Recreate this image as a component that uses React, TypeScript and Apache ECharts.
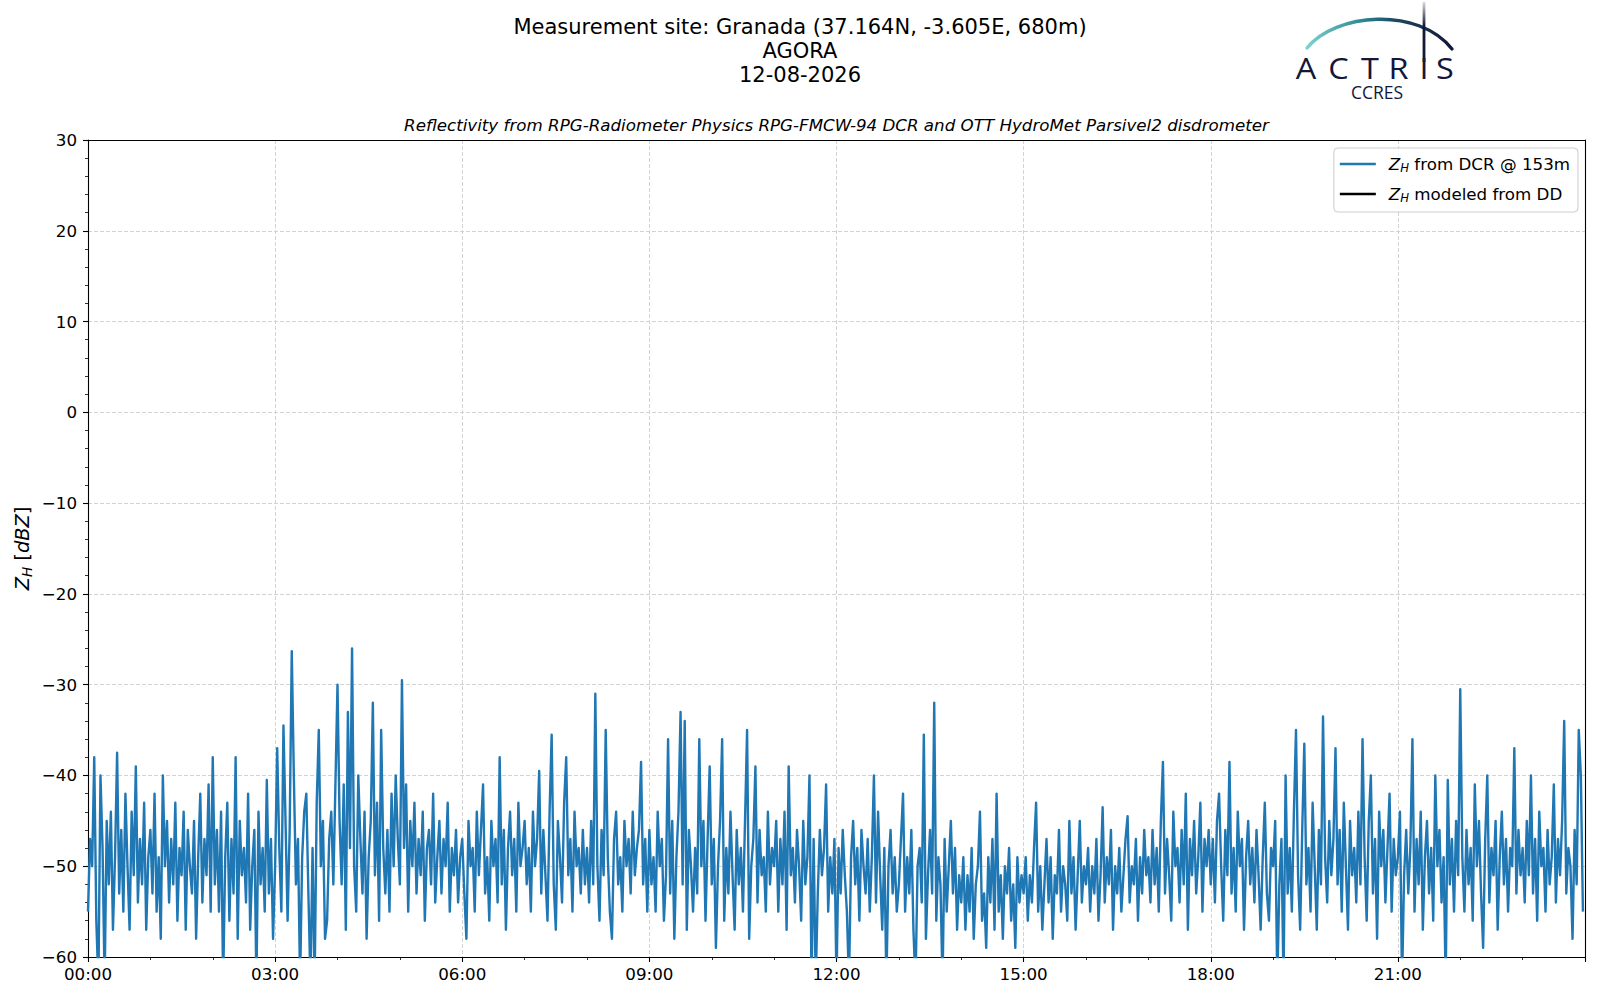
import React, { useEffect, useRef } from "react";
import * as echarts from "echarts";

// Reflectivity Z_H from the DCR @ 153m, one value every 2 minutes (dBZ), grouped by 3-hour blocks
const ZH_00_03 = [
  -55, -47, -50, -38, -56, -63, -40, -48, -63, -45, -52, -44, -57, -49, -37.5, -53, -46, -55, -42, -50, -57, -44, -51, -39, -54, -47, -52, -43, -57, -49,
  -46, -53, -42, -55, -49, -58, -40, -50, -45, -54, -47, -52, -43, -56, -48, -51, -44, -57, -46, -50, -53, -45, -58, -49, -42, -54, -47, -51, -41, -55,
  -38, -52, -46, -55, -44, -63, -49, -43, -56, -47, -53, -38, -58, -45, -51, -48, -54, -42, -57, -50, -46, -63, -44, -52, -48, -55, -40.5, -53, -47, -58,
];
const ZH_03_06 = [
  -50, -37, -48, -55, -34.5, -45, -56, -46, -26.3, -40, -52, -47, -63, -49, -44, -42, -53, -63, -48, -63, -43, -35, -50, -45, -58, -56, -47, -44, -52, -41,
  -30, -45, -52, -41, -57, -33, -48, -26, -50, -55, -40, -47, -53, -44, -58, -49, -45, -32, -51, -43, -56, -35, -48, -53, -46, -55, -42, -50, -40, -47,
  -52, -29.5, -48, -41, -55, -45, -50, -43, -53, -47, -51, -44, -56, -48, -46, -52, -42, -54, -49, -45, -53, -47, -50, -43, -55, -48, -51, -46, -54, -49,
];
const ZH_06_09 = [
  -47, -53, -58, -45, -50, -48, -55, -44, -51, -46, -41, -53, -49, -56, -45, -50, -47, -54, -38, -52, -46, -57, -48, -44, -51, -47, -55, -43, -50, -48,
  -45, -52, -48, -55, -44, -50, -47, -39.5, -53, -46, -51, -56, -44, -35.5, -52, -57, -45, -49, -54, -43, -38, -51, -47, -55, -44, -50, -48, -53, -46, -52,
  -48, -54, -45, -52, -31, -50, -56, -46, -51, -35, -49, -55, -58, -47, -44, -52, -49, -55, -45, -50, -47, -53, -44, -51, -48, -46, -38.5, -52, -47, -55,
];
const ZH_09_12 = [
  -46, -52, -49, -55, -44, -50, -47, -56, -51, -36, -53, -45, -58, -49, -44, -33, -52, -34, -57, -46, -50, -55, -48, -53, -36, -50, -45, -56, -47, -39,
  -52, -47, -59, -50, -45, -36, -56, -48, -53, -44, -51, -57, -46, -52, -48, -55, -45, -35, -58, -50, -47, -39, -54, -46, -51, -49, -55, -44, -52, -48,
  -50, -45, -55, -47, -52, -44, -57, -39, -51, -48, -54, -46, -50, -56, -45, -52, -49, -40, -63, -47, -63, -53, -46, -51, -48, -41, -55, -49, -53, -47,
];
const ZH_12_15 = [
  -63, -48, -53, -46, -51, -55, -63, -49, -45, -52, -48, -56, -46, -50, -53, -47, -55, -49, -40, -54, -44, -51, -57, -48, -63, -50, -46, -53, -49, -55,
  -52, -47, -42, -55, -49, -53, -46, -57, -63, -50, -48, -54, -35.5, -58, -51, -46, -53, -32, -56, -49, -52, -63, -47, -55, -50, -45, -53, -48, -57, -51,
  -54, -49, -57, -51, -55, -48, -58, -52, -50, -44, -56, -53, -59, -49, -54, -47, -57, -42, -55, -51, -58, -50, -53, -48, -56, -52, -59, -49, -54, -51,
];
const ZH_15_18 = [
  -53, -49, -56, -51, -54, -48, -43, -55, -50, -57, -52, -47, -54, -49, -58, -51, -53, -46, -55, -50, -52, -56, -45, -53, -49, -57, -51, -45, -54, -50,
  -52, -48, -55, -50, -53, -47, -56, -51, -43.5, -54, -49, -52, -46, -57, -50, -53, -48, -55, -51, -47, -44.5, -54, -50, -52, -47, -56, -49, -53, -46, -51,
  -49, -54, -46, -52, -48, -55, -45, -38.5, -53, -47, -51, -56, -44, -50, -48, -54, -46, -52, -42, -57, -47, -51, -45, -53, -49, -43, -55, -47, -50, -46,
];
const ZH_18_21 = [
  -52, -47, -54, -45, -42, -50, -56, -46, -51, -38.5, -53, -48, -55, -44, -50, -47, -57, -49, -45, -52, -48, -54, -46, -51, -57, -49, -43, -53, -56, -48,
  -50, -45, -63, -52, -47, -63, -40, -53, -48, -55, -44, -35, -51, -57, -46, -36.5, -52, -48, -55, -43, -50, -57, -46, -52, -33.5, -49, -54, -45, -51, -47,
  -37, -52, -46, -55, -43, -50, -57, -45, -51, -48, -54, -44, -52, -36, -49, -56, -45, -40, -53, -47, -58, -44, -50, -46, -54, -48, -42, -55, -47, -51,
];
const ZH_21_24 = [
  -49, -44, -63, -51, -46, -53, -48, -36, -55, -47, -52, -44, -57, -49, -45, -53, -48, -56, -40, -50, -46, -54, -49, -63, -40.5, -52, -47, -55, -45, -51,
  -30.5, -49, -55, -46, -52, -48, -56, -41, -50, -45, -53, -59, -47, -40, -54, -48, -51, -45, -57, -49, -44, -52, -47, -55, -48, -50, -37, -53, -46, -51,
  -48, -54, -45, -51, -40, -53, -47, -56, -44, -50, -48, -55, -46, -52, -49, -41, -54, -47, -51, -45, -34, -53, -48, -50, -58, -46, -52, -35, -40, -55,
];
const ZH_BLOCKS = [ZH_00_03, ZH_03_06, ZH_06_09, ZH_09_12, ZH_12_15, ZH_15_18, ZH_18_21, ZH_21_24];
const STEP_MINUTES = 2;

// Disdrometer-modelled Z_H: no data on this day
const ZH_DD: number[][] = [];

const X_TICK_LABELS = ["00:00", "03:00", "06:00", "09:00", "12:00", "15:00", "18:00", "21:00"];
const LEGEND_NAMES = ["Z_H from DCR @ 153m", "Z_H modeled from DD"];
const TITLE_LINES = ["Measurement site: Granada (37.164N, -3.605E, 680m)", "AGORA", "12-08-2026"];
const SUBTITLE = "Reflectivity from RPG-Radiometer Physics RPG-FMCW-94 DCR and OTT HydroMet Parsivel2 disdrometer";
const LOGO_LETTERS = ["A", "C", "T", "R", "I", "S"];

const FONT = "DejaVu Sans";
const NAVY = "#14163a";

export default function App() {
  const ref = useRef<HTMLDivElement>(null);

  useEffect(() => {
    document.body.style.margin = "0";
    if (!ref.current) return;
    const chart = echarts.init(ref.current, null, { renderer: "svg" });

    const flat: number[] = ([] as number[]).concat(...ZH_BLOCKS);
    const dcr = flat.map((v, i) => [i * STEP_MINUTES, v]);

    const letterX = [1306, 1338.5, 1370, 1398.5, 1424, 1445];

    const tickFmt = (v: number) => {
      if (v % 180 !== 0) return "";
      const idx = v / 180;
      return X_TICK_LABELS[idx] ?? "";
    };

    const option: any = {
      animation: false,
      backgroundColor: "#ffffff",
      grid: { left: 88, top: 140, width: 1497, height: 817, containLabel: false },
      xAxis: [
        {
          type: "value",
          min: 0,
          max: 1440,
          interval: 180,
          axisLine: { show: true, onZero: false, lineStyle: { color: "#000", width: 1.1 } },
          axisTick: { show: true, inside: false, length: 5, lineStyle: { color: "#000", width: 1.1 } },
          minorTick: { show: true, splitNumber: 3, length: 3, lineStyle: { color: "#000", width: 0.8 } },
          axisLabel: { formatter: tickFmt, fontSize: 16.7, fontFamily: FONT, color: "#000", margin: 8 },
          splitLine: { show: true, lineStyle: { color: "#d3d3d3", type: [4, 2], width: 1 } },
          minorSplitLine: { show: false },
        },
        {
          type: "value",
          position: "top",
          min: 0,
          max: 1440,
          axisLine: { show: true, onZero: false, lineStyle: { color: "#000", width: 1.1 } },
          axisTick: { show: false },
          axisLabel: { show: false },
          splitLine: { show: false },
        },
      ],
      yAxis: [
        {
          type: "value",
          min: -60,
          max: 30,
          interval: 10,
          axisLine: { show: true, onZero: false, lineStyle: { color: "#000", width: 1.1 } },
          axisTick: { show: true, inside: false, length: 5, lineStyle: { color: "#000", width: 1.1 } },
          minorTick: { show: true, splitNumber: 5, length: 3, lineStyle: { color: "#000", width: 0.8 } },
          axisLabel: {
            formatter: (v: number) => (v < 0 ? "\u2212" + Math.abs(v) : String(v)),
            fontSize: 16.7,
            fontFamily: FONT,
            color: "#000",
            margin: 11,
          },
          splitLine: { show: true, lineStyle: { color: "#d3d3d3", type: [4, 2], width: 1 } },
        },
        {
          type: "value",
          position: "right",
          min: -60,
          max: 30,
          axisLine: { show: true, onZero: false, lineStyle: { color: "#000", width: 1.1 } },
          axisTick: { show: false },
          axisLabel: { show: false },
          splitLine: { show: false },
        },
      ],
      legend: {
        show: true,
        orient: "vertical",
        right: 22,
        top: 148,
        icon: "rect",
        itemWidth: 36,
        itemHeight: 2.6,
        itemGap: 10,
        padding: [6, 8, 8, 6],
        backgroundColor: "rgba(255,255,255,0.85)",
        borderColor: "#cccccc",
        borderWidth: 1,
        borderRadius: 4,
        data: LEGEND_NAMES,
        formatter: (name: string) => {
          const rest = name.replace(/^Z_H /, "");
          return "{z|Z}{s|H}{t| " + rest + "}";
        },
        textStyle: {
          fontSize: 16.7,
          fontFamily: FONT,
          color: "#000",
          lineHeight: 20,
          padding: [0, 0, 0, 8],
          rich: {
            z: { fontSize: 16.7, fontFamily: FONT, fontStyle: "italic", lineHeight: 20, verticalAlign: "middle", color: "#000" },
            s: { fontSize: 11.7, fontFamily: FONT, fontStyle: "italic", lineHeight: 10, verticalAlign: "bottom", color: "#000" },
            t: { fontSize: 16.7, fontFamily: FONT, lineHeight: 20, verticalAlign: "middle", color: "#000" },
          },
        },
      },
      series: [
        {
          name: LEGEND_NAMES[0],
          type: "line",
          data: dcr,
          xAxisIndex: 0,
          yAxisIndex: 0,
          showSymbol: false,
          symbol: "none",
          clip: true,
          lineStyle: { width: 2.4, color: "#1f77b4", join: "round" },
          itemStyle: { color: "#1f77b4" },
          z: 2,
        },
        {
          name: LEGEND_NAMES[1],
          type: "line",
          data: ZH_DD,
          xAxisIndex: 0,
          yAxisIndex: 0,
          showSymbol: false,
          symbol: "none",
          lineStyle: { width: 2.4, color: "#000" },
          itemStyle: { color: "#000" },
        },
      ],
      graphic: [
        ...TITLE_LINES.map((t, i) => ({
          type: "text",
          x: 800,
          y: 27 + i * 24,
          z: 10,
          style: { text: t, fontSize: 21, fontFamily: FONT, fill: "#000", align: "center", verticalAlign: "middle" },
        })),
        {
          type: "text",
          x: 836.5,
          y: 125,
          z: 10,
          style: {
            text: SUBTITLE,
            fontSize: 16.7,
            fontFamily: FONT,
            fontStyle: "italic",
            fill: "#000",
            align: "center",
            verticalAlign: "middle",
          },
        },
        {
          type: "text",
          x: 22,
          y: 548.5,
          rotation: Math.PI / 2,
          z: 10,
          style: {
            text: "{i|Z}{s|H}{n| [}{i|dBZ}{n|]}",
            align: "center",
            verticalAlign: "middle",
            fill: "#000",
            rich: {
              i: { fontSize: 19.4, fontFamily: FONT, fontStyle: "italic", lineHeight: 24, verticalAlign: "middle", fill: "#000" },
              s: { fontSize: 13.6, fontFamily: FONT, fontStyle: "italic", lineHeight: 12, verticalAlign: "bottom", fill: "#000" },
              n: { fontSize: 19.4, fontFamily: FONT, lineHeight: 24, verticalAlign: "middle", fill: "#000" },
            },
          },
        },
        // ACTRIS logo
        {
          type: "bezierCurve",
          z: 10,
          shape: { x1: 1307, y1: 48, cpx1: 1335, cpy1: 13, cpx2: 1418, cpy2: 6, x2: 1452, y2: 49 },
          style: {
            fill: null,
            lineWidth: 3.4,
            lineCap: "round",
            stroke: {
              type: "linear",
              x: 1307,
              y: 0,
              x2: 1452,
              y2: 0,
              global: true,
              colorStops: [
                { offset: 0, color: "#7fd0cc" },
                { offset: 0.35, color: "#2f8f98" },
                { offset: 0.6, color: "#1d4a62" },
                { offset: 1, color: NAVY },
              ],
            },
          },
        },
        ...LOGO_LETTERS.map((l, i) => ({
          type: "text",
          x: letterX[i],
          y: 67.5,
          z: 10,
          scaleX: 1.12,
          style: {
            text: l,
            fontSize: 29,
            fontWeight: 500,
            fontFamily: "Open Sans",
            fill: NAVY,
            align: "center",
            verticalAlign: "middle",
          },
        })),
        {
          type: "line",
          z: 11,
          shape: { x1: 1424, y1: 2, x2: 1424, y2: 62 },
          style: {
            lineWidth: 2.8,
            stroke: {
              type: "linear",
              x: 0,
              y: 2,
              x2: 0,
              y2: 62,
              global: true,
              colorStops: [
                { offset: 0, color: "rgba(20,22,58,0.15)" },
                { offset: 0.4, color: NAVY },
                { offset: 1, color: NAVY },
              ],
            },
          },
        },
        {
          type: "text",
          x: 1377,
          y: 92,
          z: 10,
          style: { text: "CCRES", fontSize: 17.5, fontFamily: "Open Sans", fill: NAVY, align: "center", verticalAlign: "middle" },
        },
      ],
    };

    chart.setOption(option);
    return () => chart.dispose();
  }, []);

  return <div ref={ref} style={{ width: 1600, height: 1000 }} />;
}
